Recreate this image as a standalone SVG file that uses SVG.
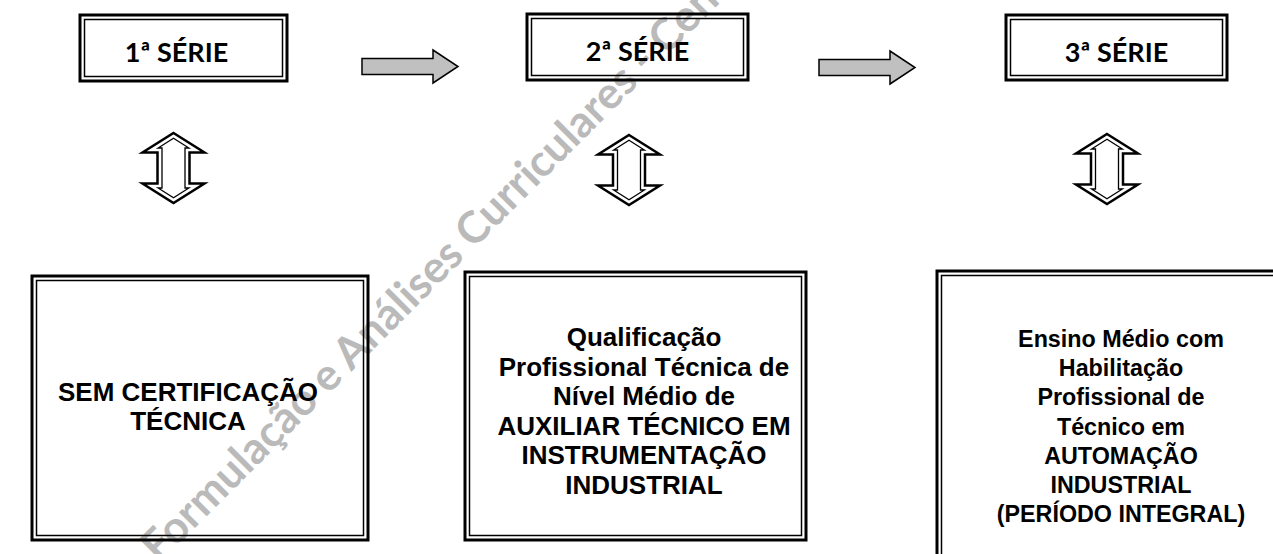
<svg xmlns="http://www.w3.org/2000/svg" width="1273" height="554" viewBox="0 0 1273 554">
<defs>
<style>
.wm{font-family:Lato,"Liberation Sans",sans-serif;font-weight:700;font-size:44px;fill:#bababa}
.o{fill:none;stroke:#000;stroke-width:3}
.i{fill:none;stroke:#000;stroke-width:1.5}
.ht{font-family:Lato,"Liberation Sans",sans-serif;font-weight:700;font-size:27px;fill:#000;text-anchor:middle}
.bt{font-family:"Liberation Sans",Arial,sans-serif;font-weight:700;font-size:26px;fill:#000;text-anchor:middle}
.bt3{font-size:23.3px}
.ra{fill:#c0c0c0;stroke:#000;stroke-width:1.5}
.udo{fill:#fff;stroke:#000;stroke-width:2.5}
.udi{fill:none;stroke:#000;stroke-width:1.3}
</style>
<g id="udArrow">
<polygon class="udo" points="0,0 31,19.5 16,19.5 16,50.5 31,50.5 0,70 -31,50.5 -16,50.5 -16,19.5 -31,19.5"/>
<polygon class="udi" points="0,5.3 15.4,15 11.5,15 11.5,55 15.4,55 0,64.7 -15.4,55 -11.5,55 -11.5,15 -15.4,15"/>
</g>
<polygon id="rArrow" class="ra" points="0,-8 71,-8 71,-16.5 96,0 71,16.5 71,8 0,8"/>
</defs>
<rect width="1273" height="554" fill="#fff"/>
<text class="wm" transform="translate(159,564) rotate(-45)">Formulação e Análises Curriculares - Cen</text>

<g id="serie1">
<rect class="o" x="80" y="15" width="207" height="66"/>
<rect class="i" x="84.5" y="19.5" width="198" height="57"/>
<text class="ht" x="176.5" y="62">1ª SÉRIE</text>
</g>
<g id="serie2">
<rect class="o" x="527" y="14" width="221" height="66"/>
<rect class="i" x="531.5" y="18.5" width="212" height="57"/>
<text class="ht" x="637.5" y="61">2ª SÉRIE</text>
</g>
<g id="serie3">
<rect class="o" x="1006" y="15" width="221" height="65"/>
<rect class="i" x="1010.5" y="19.5" width="212" height="56"/>
<text class="ht" x="1116.5" y="62">3ª SÉRIE</text>
</g>

<g id="cert1">
<rect class="o" x="32" y="276" width="336" height="264"/>
<rect class="i" x="36.5" y="280.5" width="327" height="255"/>
<text class="bt"><tspan x="188" y="401">SEM CERTIFICAÇÃO</tspan><tspan x="188" y="430">TÉCNICA</tspan></text>
</g>
<g id="cert2">
<rect class="o" x="465" y="272" width="341" height="268"/>
<rect class="i" x="469.5" y="276.5" width="332" height="259"/>
<text class="bt"><tspan x="644" y="346">Qualificação</tspan><tspan x="644" y="375.5">Profissional Técnica de</tspan><tspan x="644" y="405">Nível Médio de</tspan><tspan x="644" y="434.5">AUXILIAR TÉCNICO EM</tspan><tspan x="644" y="464">INSTRUMENTAÇÃO</tspan><tspan x="644" y="493.5">INDUSTRIAL</tspan></text>
</g>
<g id="cert3">
<rect class="o" x="937" y="271" width="368" height="300"/>
<rect class="i" x="941.5" y="275.5" width="359" height="291"/>
<text class="bt bt3"><tspan x="1121" y="347">Ensino Médio com</tspan><tspan x="1121" y="376.2">Habilitação</tspan><tspan x="1121" y="405.4">Profissional de</tspan><tspan x="1121" y="434.6">Técnico em</tspan><tspan x="1121" y="463.8">AUTOMAÇÃO</tspan><tspan x="1121" y="493">INDUSTRIAL</tspan><tspan x="1121" y="522.2">(PERÍODO INTEGRAL)</tspan></text>
</g>

<g id="connectors">
<use href="#rArrow" transform="translate(362,66.5)"/>
<use href="#rArrow" transform="translate(819,67.5)"/>
<use href="#udArrow" transform="translate(173.5,133)"/>
<use href="#udArrow" transform="translate(629,135)"/>
<use href="#udArrow" transform="translate(1107,134)"/>
</g>
</svg>
